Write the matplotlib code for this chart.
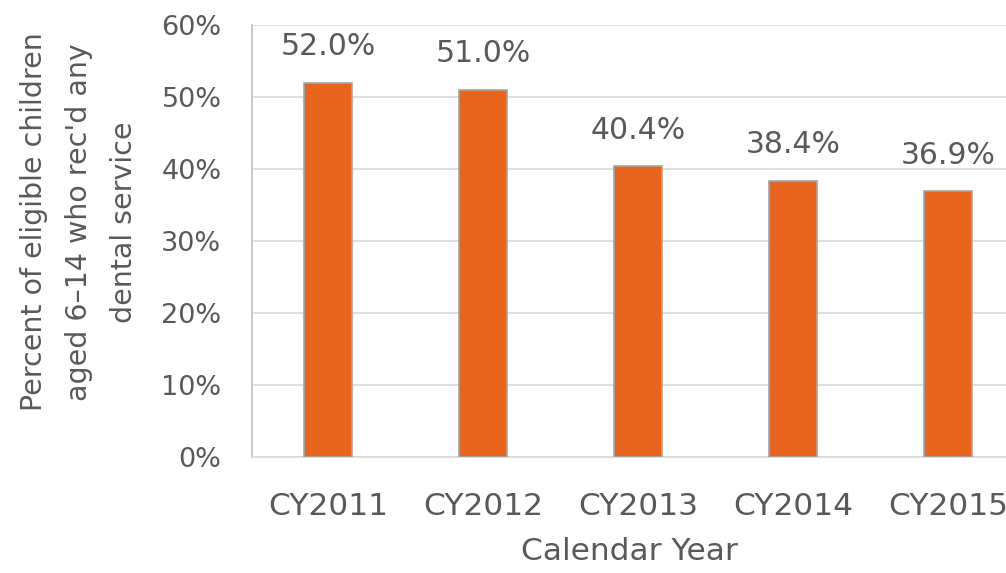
import matplotlib
matplotlib.use("Agg")
import matplotlib.pyplot as plt
from matplotlib.ticker import FuncFormatter

years = ["CY2011", "CY2012", "CY2013", "CY2014", "CY2015"]
pct = [52.0, 51.0, 40.4, 38.4, 36.9]

txt = "#595959"
plt.rcParams['font.family'] = ['DejaVu Sans']

fig = plt.figure(figsize=(10.06, 5.73), dpi=100)
ax = fig.add_axes([252/1006, 116/573, (1006-252)/1006, 432/573])

x = list(range(len(years)))
ax.bar(x, pct, width=0.31, color="#E9651E", edgecolor="#A5A5A5", linewidth=1.2, zorder=3)
for xi, v in zip(x, pct):
    ax.annotate(f"{v:.1f}%", (xi, v), xytext=(0, 26), textcoords="offset points",
                ha="center", va="center", fontsize=21.5, color=txt)

ax.set_xlim(-0.49, 4.374)
ax.set_ylim(0, 60)
ax.set_yticks(range(0, 61, 10))
ax.yaxis.set_major_formatter(FuncFormatter(lambda v, p: f"{v:.0f}%"))
ax.set_xticks(x)
ax.set_xticklabels(years)
ax.tick_params(axis="y", length=0, pad=22, labelsize=19.5, labelcolor=txt)
ax.tick_params(axis="x", length=0, pad=25, labelsize=22.5, labelcolor=txt)
ax.grid(axis="y", color="#D9D9D9", linewidth=1.2, zorder=0)
for s in ["top", "right"]:
    ax.spines[s].set_visible(False)
ax.spines["left"].set_color("#BFBFBF")
ax.spines["bottom"].set_color("#D9D9D9")
ax.spines["left"].set_linewidth(1.2)
ax.spines["bottom"].set_linewidth(1.2)

ax.set_xlabel("Calendar Year", fontsize=22.5, color=txt, labelpad=12)
fig.text(79/1006, 1 - 222/573, "Percent of eligible children\naged 6\u201314 who rec'd any\ndental service",
         rotation=90, ha="center", va="center", multialignment="center",
         fontsize=20.5, color=txt, linespacing=1.75)

fig.savefig("out.png", dpi=100)
